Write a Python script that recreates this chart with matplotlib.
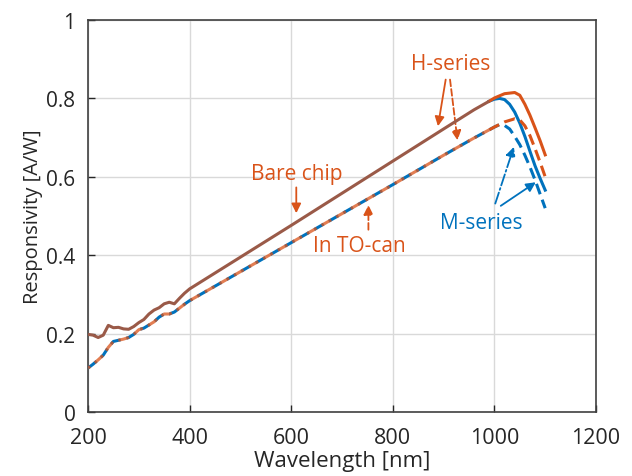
import matplotlib
matplotlib.use("Agg")
import matplotlib.pyplot as plt
import numpy as np

plt.rcParams['font.family'] = ['Open Sans', 'DejaVu Sans']

ORANGE = '#D95319'
BLUE = '#0072BD'
BROWN = '#9A5A48'

# Bare chip (solid) - common part
wl_low = [200, 210, 220, 230, 240, 250, 260, 270, 280, 290, 300, 310, 320, 330, 340, 350, 360, 370, 380, 390, 400,
          500, 600, 700, 800, 900, 960, 990]
bare_low = [0.198, 0.196, 0.190, 0.196, 0.221, 0.215, 0.216, 0.212, 0.211, 0.218, 0.228, 0.236, 0.250, 0.260, 0.266,
            0.276, 0.280, 0.276, 0.290, 0.303, 0.314,
            0.395, 0.476, 0.558, 0.640, 0.722, 0.771, 0.793]
wl_h_tail = [1000, 1020, 1040, 1050, 1060, 1070, 1080, 1090, 1100]
bare_h_tail = [0.801, 0.812, 0.815, 0.808, 0.785, 0.757, 0.725, 0.692, 0.656]
wl_m_tail = [1000, 1010, 1020, 1030, 1040, 1050, 1060, 1070, 1080, 1090, 1100]
bare_m_tail = [0.798, 0.800, 0.797, 0.785, 0.765, 0.737, 0.703, 0.665, 0.628, 0.596, 0.566]

# In TO-can (dashed)
can_low = [0.112, 0.122, 0.133, 0.145, 0.165, 0.180, 0.183, 0.186, 0.190, 0.198, 0.210, 0.214, 0.222, 0.230, 0.242,
           0.250, 0.250, 0.255, 0.265, 0.275, 0.284,
           0.358, 0.432, 0.506, 0.580, 0.655, 0.699, 0.720]
can_h_tail = [0.727, 0.740, 0.748, 0.745, 0.730, 0.705, 0.672, 0.637, 0.600]
can_m_tail = [0.727, 0.733, 0.731, 0.722, 0.703, 0.682, 0.655, 0.625, 0.592, 0.556, 0.520]

fig = plt.figure(figsize=(6.32, 4.77), dpi=100)
ax = fig.add_axes([88/632, 1-413/477, (596-88)/632, (413-21)/477])

LW = 2.2
DASH = (0, (3.6, 1.9))
DASH_OFF = (2.7, (3.6, 1.9))
# tails (series split)
ax.plot([wl_low[-1]] + wl_m_tail, [bare_low[-1]] + bare_m_tail, color=BLUE, lw=LW, zorder=3)
ax.plot([wl_low[-1]] + wl_h_tail, [bare_low[-1]] + bare_h_tail, color=ORANGE, lw=LW, zorder=3)
ax.plot([wl_low[-1]] + wl_m_tail, [can_low[-1]] + can_m_tail, color=BLUE, lw=LW, ls=DASH, zorder=3)
ax.plot([wl_low[-1]] + wl_h_tail, [can_low[-1]] + can_h_tail, color=ORANGE, lw=LW, ls=DASH, zorder=3)
# common part (both series overlap)
ax.plot(wl_low, bare_low, color=BROWN, lw=LW, zorder=4, solid_capstyle='butt')
ax.plot(wl_low, can_low, color=BLUE, lw=LW, ls=DASH, zorder=4)
ax.plot(wl_low, can_low, color=ORANGE, lw=LW, ls=DASH_OFF, alpha=0.75, zorder=5)

ax.set_xlim(200, 1200)
ax.set_ylim(0, 1)
ax.set_xticks([200, 400, 600, 800, 1000, 1200])
ax.set_yticks([0, 0.2, 0.4, 0.6, 0.8, 1])
ax.set_yticklabels(['0', '0.2', '0.4', '0.6', '0.8', '1'])
ax.grid(True, color='#d9d9d9', lw=1)
ax.set_axisbelow(True)
ax.tick_params(direction='in', length=5, width=1, colors='#262626', top=False, right=False)
ax.tick_params(axis='y', pad=9, labelsize=15)
ax.tick_params(axis='x', pad=11, labelsize=15.5)
for s in ax.spines.values():
    s.set_color('#404040')
    s.set_linewidth(1.2)
ax.set_xlabel('Wavelength [nm]', fontsize=16, color='#262626', labelpad=1)
ax.set_ylabel('Responsivity [A/W]', fontsize=14.5, color='#262626', labelpad=2)

fs = 15
ax.text(913, 0.888, 'H-series', color=ORANGE, fontsize=fs, ha='center', va='center')
ax.annotate('', xy=(888, 0.722), xytext=(905, 0.855),
            arrowprops=dict(arrowstyle='-|>', color=ORANGE, lw=1.3, mutation_scale=14))
ax.annotate('', xy=(928, 0.686), xytext=(912, 0.855),
            arrowprops=dict(arrowstyle='-|>', color=ORANGE, lw=1.3, ls='--', mutation_scale=14))

ax.text(610, 0.608, 'Bare chip', color=ORANGE, fontsize=fs, ha='center', va='center')
ax.annotate('', xy=(610, 0.500), xytext=(610, 0.580),
            arrowprops=dict(arrowstyle='-|>', color=ORANGE, lw=1.3, mutation_scale=14))

ax.text(735, 0.425, 'In TO-can', color=ORANGE, fontsize=fs, ha='center', va='center')
ax.annotate('', xy=(752, 0.535), xytext=(752, 0.458),
            arrowprops=dict(arrowstyle='-|>', color=ORANGE, lw=1.3, ls='--', mutation_scale=14))

ax.text(975, 0.483, 'M-series', color=BLUE, fontsize=fs, ha='center', va='center')
ax.annotate('', xy=(1040, 0.683), xytext=(1000, 0.525),
            arrowprops=dict(arrowstyle='-|>', color=BLUE, lw=1.3, ls='-.', mutation_scale=14))
ax.annotate('', xy=(1086, 0.590), xytext=(1008, 0.522),
            arrowprops=dict(arrowstyle='-|>', color=BLUE, lw=1.3, mutation_scale=14))

fig.savefig('out.png', dpi=100)
